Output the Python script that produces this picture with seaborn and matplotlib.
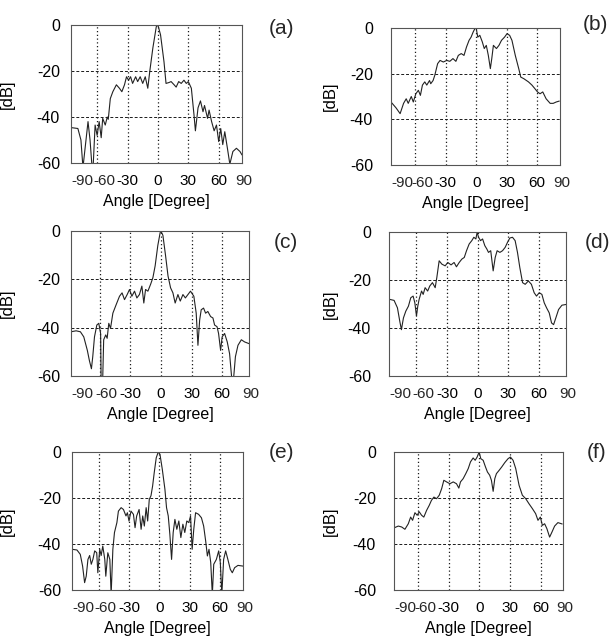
import numpy as np
import pandas as pd
import seaborn as sns
import matplotlib.pyplot as plt

# beam patterns, angle in degrees, level in dB
ang_a = [-85.8, -79, -76, -74, -71, -69, -67, -65, -64, -62, -60, -58, -56, -54.5, -52, -50, -49, -47,
         -44.5, -41, -38, -35.6, -33, -31, -29, -27, -25, -22, -20, -17.5, -15, -12.5, -10, -8, -5,
         -1.6, 0, 2.6, 6, 8, 11, 13, 16, 18, 20.5, 23, 25.7, 28, 30, 33, 35.6, 37, 39.6, 42, 44.5, 46,
         49, 50.5, 53, 55.5, 57.8, 60, 62, 64, 66, 68.6, 71, 74, 77.5, 81, 83]
db_a = [-44.6, -45, -50, -62, -50, -42, -50, -62, -62, -43.5, -48, -42, -49, -40.6, -43.5, -40, -41, -32,
        -29, -26, -27.5, -29, -26, -22.5, -24, -22.5, -25.4, -22.5, -24.6, -22.5, -25.4, -22.5, -27.5, -20, -10,
        -0.7, 0, -4.3, -16, -25.4, -25, -24.6, -26, -27, -24.6, -25.4, -24, -25.4, -24.6, -27.5, -39, -46, -36, -33, -37.7, -35,
        -40.6, -37, -42, -46, -43.5, -50.7, -45, -52, -46.4, -53.6, -60.5, -55, -53.6, -55, -56.5]

ang_b = [-84, -79, -75, -71.6, -69, -67, -64, -62, -59.5, -57, -55, -53, -50.7, -48.7, -46, -44.8, -42.5,
         -40.8, -38, -35.6, -32.4, -29, -26, -22.9, -20, -17.6, -14.7, -12, -9.5, -7, -5, -3, -1.3, 0, 1.6,
         3.6, 6, 8, 10, 12, 14, 15.4, 17, 20, 22.5, 25, 28, 30.4, 33, 35.3, 38.6, 42, 44, 47, 51.6, 55, 58,
         60.5, 63, 65.7, 69, 73, 76, 79, 82]
db_b = [-32.4, -35, -37.5, -33, -31, -33, -30, -32.4, -28.8, -27.3, -29.5, -25, -23.6, -25, -23, -24.4, -23,
        -20.7, -15.6, -14.2, -14.9, -14.2, -14.6, -13.4, -14.6, -12, -11.2, -12, -8.3, -5.4, -4, -1.8, -0.3, 0, -4,
        -3.2, -6, -9, -7.6, -12, -17.8, -13.4, -7.6, -9, -7.6, -5.4, -4, -2.5, -3.2, -5.4, -12, -17.8, -21.5, -22.2, -23.6, -25, -26.6,
        -28, -28.8, -28, -31, -33, -33, -32.4, -32]

ang_c = [-88, -83, -78.8, -75.5, -72, -70, -68, -66.7, -65, -62.7, -60.8, -59, -58.5, -57, -56, -54, -52.6,
         -51, -49.3, -47, -43.8, -40.5, -38, -35.6, -33, -30.7, -28.4, -25.8, -23.5, -21, -18.6, -16.7, -15,
         -12.7, -10, -7.8, -5.6, -3, -0.7, 0, 2, 4.6, 7, 9.5, 11.8, 14, 16.7, 19, 21.6, 24, 26.5, 29, 32.3,
         34.6, 36.3, 38, 39.5, 41.8, 43.8, 46, 48.7, 51, 52.6, 55, 56.5, 58.5, 60, 62.4, 65, 67.3, 69.6, 71,
         73, 75.5, 78.8, 82, 86.3]
db_c = [-41.7, -41.3, -41.7, -43.8, -49.4, -53.6, -57, -52, -43.8, -38.9, -38.2, -42.4, -62, -62, -45, -43, -44.4,
        -38.2, -40.3, -34, -30.5, -27, -25.6, -28.4, -26.3, -24.2, -27, -24.9, -27.7, -26.3, -22.8, -29.8, -24.2,
        -24.9, -22, -19.3, -14.4, -6, -0.7, 0, -1.8, -10.2, -18.6, -23.5, -25.6, -29.8, -26.3, -29, -26.3, -27.7, -26.3, -24.9, -27,
        -34, -47.3, -36.8, -32.6, -31.9, -34, -33.3, -35.4, -36, -38.9, -39.6, -42.4, -49.4, -43.8, -42.4, -45.9, -50.8, -62, -62,
        -52, -47.3, -45, -45.9, -46.6]

ang_d = [-87, -82, -78.7, -76.4, -74.8, -72.8, -70.5, -67.9, -65.6, -63.3, -61.6, -60, -58.7, -57.4, -55,
         -53.4, -51.5, -49, -46.9, -44.3, -41.6, -40, -37.7, -35, -31.8, -29.2, -26, -23, -20.7, -18, -15.4,
         -13, -10.8, -8.2, -5.6, -3.6, -1.6, -0.3, 1, 3, 5, 7.2, 9.2, 10.8, 13, 15.4, 17.4, 19.3, 22, 24.6,
         27.2, 29.5, 31.8, 34.4, 37, 39.3, 41.6, 44.3, 46.9, 50, 53, 55.7, 58, 60.7, 63.3, 65.6, 67.9, 70.5,
         72.8, 74.8, 77, 79.7, 83, 87]
db_d = [-28, -28.5, -31.6, -37.2, -40.7, -35.8, -33, -30.9, -27.4, -26.7, -29.5, -35, -30.9, -28.1, -24.6,
        -26, -23.2, -24.6, -22.5, -21.1, -23.2, -19, -12, -13.4, -14.1, -12.7, -13.7, -12.7, -14.5, -12.7, -11.3,
        -10.6, -7.8, -5, -3.6, -2.2, -2.9, 0, -2.2, -3.6, -2.9, -5.7, -7.1, -8.5, -7.8, -16.2, -10.6, -7.8, -8.5, -7.8,
        -6.4, -4.3, -2.5, -2.2, -3.6, -8.5, -14.8, -21.1, -21.8, -20.4, -21.8, -25.3, -26.7, -25.3, -26, -29.5, -31.6, -33.7,
        -37.9, -38.6, -35.8, -32.3, -30.5, -30.2]

ang_e = [-86.5, -81.6, -78.3, -76, -74, -72.4, -70.7, -69, -67.4, -65.8, -64, -62, -60.9, -59, -57.6, -56,
         -54, -53, -51, -49, -47.7, -46, -44.4, -42, -40.5, -37.8, -35.5, -33, -31.6, -30, -28, -25.6, -24,
         -22.4, -20, -18, -16.4, -14.8, -13, -11.5, -9.9, -8.2, -6.6, -5, -3, -1, 0.7, 3, 5.6, 7.2, 8.9, 10.5,
         12.2, 13.8, 15.5, 17.4, 19.4, 21.4, 23.4, 25.3, 27.3, 29.3, 31, 32.6, 34.2, 36, 39, 41.8, 44, 46,
         47.7, 49.3, 51, 52.6, 54, 56.6, 58.9, 60.5, 62, 63.8, 65.8, 68, 70.4, 72.4, 74.7, 78, 83]
db_e = [-42.3, -42.6, -44.5, -49.6, -56.8, -54, -46.7, -45, -48.8, -46.7, -43, -43.8, -52.5, -42.3, -45, -40.9,
        -46.7, -54, -43.8, -46.7, -62, -42.3, -35, -30.7, -25.7, -24.2, -25, -27.8, -26.4, -30, -25.7, -27.1, -32.9,
        -27.8, -25, -33.6, -27.8, -32.2, -24.2, -30, -20.6, -19, -14.8, -9, -2.5, 0, -1, -7.5, -16.2, -24.2, -27.8, -35.8,
        -46.7, -35, -29.3, -33.6, -30, -37.2, -31.4, -35, -30, -30.7, -27.8, -42.3, -33.6, -26.4, -27.1, -28.6, -32.2, -38.7,
        -45.2, -42.3, -48, -62, -48.8, -46.7, -43, -48, -62, -46.7, -43, -46.7, -51, -52.5, -50.3, -49.3, -49.6]

ang_f = [-83.7, -79.5, -76.2, -73, -69.7, -67.4, -65.5, -63.2, -61, -59, -56.7, -54.5, -51.8, -49.2, -47,
         -44.6, -42, -39.4, -37, -34.9, -32.2, -29, -25.7, -22.5, -20.2, -18.6, -16, -13.4, -11, -8.8, -6.2,
         -4.2, -2.3, -0.3, 1.3, 3.6, 5.9, 7.8, 10, 11.7, 13.4, 15, 16.6, 19.2, 21.8, 24.8, 28, 30.3, 32.9,
         35.5, 38.8, 42, 45.3, 48.5, 51.8, 55, 57.3, 59.6, 61.6, 63.8, 66, 68.7, 71, 73.6, 76.8, 81]
db_f = [-33, -32.2, -32.6, -33.6, -31.2, -28.3, -29.7, -26.4, -27.5, -26, -27.5, -28.3, -25.4, -23.2, -21,
        -19.6, -20.3, -18.8, -15.9, -12.3, -13, -13.8, -13, -13.8, -15.7, -13, -11.6, -9.4, -7.2, -4.3, -2.6,
        -3.6, -2.2, 0, -2.9, -3.6, -6.5, -8.7, -10.1, -12.3, -17.1, -11.6, -9.4, -8, -6.5, -4.6, -2.9, -2.2, -3.6,
        -7.2, -14.5, -18.8, -20.3, -22.5, -24.6, -26.8, -29.7, -28.3, -31.9, -31.2, -33.3, -37, -34.8, -32.2, -30.7, -31.3]

labels = ["(a)", "(b)", "(c)", "(d)", "(e)", "(f)"]
curves = [(ang_a, db_a), (ang_b, db_b), (ang_c, db_c), (ang_d, db_d), (ang_e, db_e), (ang_f, db_f)]

W, H = 614, 642
# box edges in pixels: left, right, top, bottom
boxes = [(71, 242, 25, 163), (391, 560, 28, 165),
         (71, 249, 231, 376), (389, 566, 232, 376),
         (72, 243, 452, 590), (394, 563, 452, 590)]
xlims = [(-85.8, 83), (-84, 82.7), (-88, 86.3), (-87, 87), (-86.5, 83), (-83.7, 81.8)]
label_pos = [(281, 28), (595, 24), (286, 243), (598, 243), (281, 453), (597, 452)]

sns.set_theme(style="white")
plt.rcParams['font.family'] = ['Liberation Sans', 'DejaVu Sans']

fig = plt.figure(figsize=(W / 100, H / 100), dpi=100)
PX = 72 / 100  # points per pixel
TFS = 11

for i, ((ang, db), (L, R, T, B)) in enumerate(zip(curves, boxes)):
    ax = fig.add_axes([L / W, 1 - B / H, (R - L) / W, (B - T) / H])
    df = pd.DataFrame({"Angle": ang, "dB": db})
    sns.lineplot(data=df, x="Angle", y="dB", ax=ax, color="#222222", lw=0.8,
                 estimator=None, sort=False)
    ax.set_xlim(*xlims[i])
    ax.set_ylim(-60, 0)

    for gx in [-60, -30, 0, 30, 60]:
        ax.axvline(gx, color="k", lw=0.9, ls=(0, (1, 2)), zorder=0)
    for gy in [-20, -40]:
        ax.axhline(gy, color="k", lw=0.7, ls=(0, (3, 2)), zorder=0)

    right_col = (i % 2 == 1)
    ax.set_xticks([-30, 0, 30, 60])
    ax.set_xticklabels(["-30", "0", "30", "60"])
    ax.set_yticks([-60, -40, -20, 0])
    ax.set_yticklabels(["-60", "-40", "-20", "0"])
    ax.tick_params(axis="x", length=0, pad=8, labelsize=TFS, colors="black")
    ax.tick_params(axis="y", length=0, pad=13 if right_col else 8, labelsize=11.5, colors="black")
    # the outer angle labels are squeezed together as in the original figure
    wpx = R - L
    ax.annotate("-90", xy=(11 / wpx, 0), xycoords="axes fraction", xytext=(0, -8),
                textcoords="offset points", ha="center", va="top", fontsize=TFS)
    ax.annotate("-60", xy=(-60, 0), xycoords=ax.get_xaxis_transform(), xytext=(7 * PX, -8),
                textcoords="offset points", ha="center", va="top", fontsize=TFS)
    ax.annotate("90", xy=(1 + 2 / wpx, 0), xycoords="axes fraction", xytext=(0, -8),
                textcoords="offset points", ha="center", va="top", fontsize=TFS)

    ax.set_xlabel("Angle [Degree]", fontsize=11.5, labelpad=4, color="black")
    ax.set_ylabel("[dB]", fontsize=12, color="black")
    ylab_px = 338 if right_col else 15
    ax.yaxis.set_label_coords((ylab_px - L) / wpx, 0.5)

    for sp in ax.spines.values():
        sp.set_color("#555555")
        sp.set_linewidth(0.8)

    lx, ly = label_pos[i]
    fig.text(lx / W, 1 - ly / H, labels[i], fontsize=15, ha="center", va="center")

fig.savefig("out.png", dpi=100)
